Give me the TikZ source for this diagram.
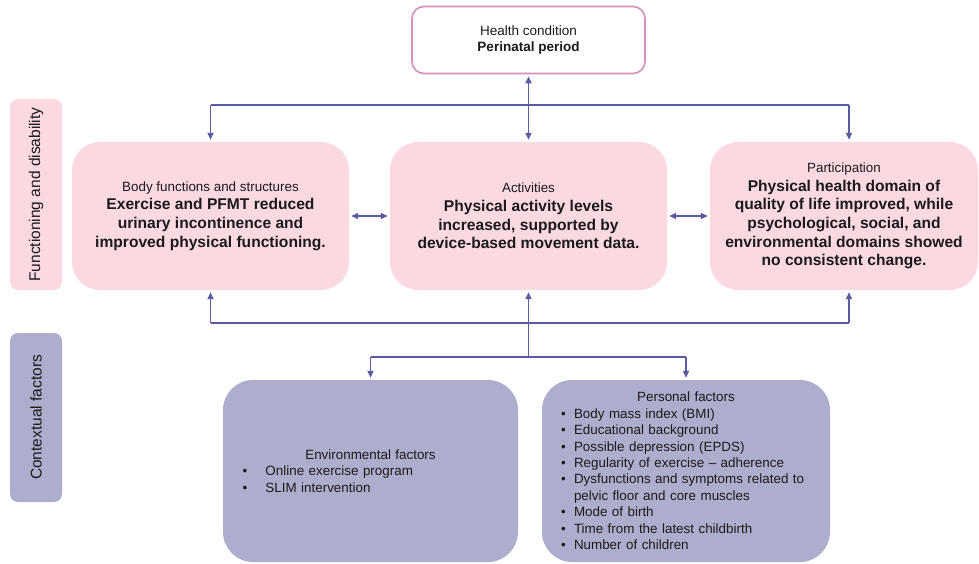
\documentclass[tikz,border=0pt]{standalone}
\usepackage{fontspec}
\setmainfont{Liberation Sans}
\usetikzlibrary{arrows.meta}

\definecolor{pinkfill}{HTML}{FADAE0}
\definecolor{violetfill}{HTML}{ADADCE}
\definecolor{busline}{HTML}{5A5AA5}
\definecolor{healthedge}{HTML}{D88FC0}
\definecolor{inktext}{HTML}{1A1A1A}

% bullet set in a box of given width, followed by the item text
\newcommand{\lbul}[2]{\makebox[#1][l]{\textbullet}#2}

\tikzset{
  mainbox/.style={fill=pinkfill, rounded corners=28pt, inner sep=0pt,
    minimum width=277pt, minimum height=148pt, align=center,
    text=inktext, font=\fontsize{15.6}{18.7}\selectfont},
  sidelabel/.style={rounded corners=8pt, inner sep=0pt, rotate=90,
    minimum height=52pt, text=inktext, font=\fontsize{15.5}{18}\selectfont},
  factorbox/.style={fill=violetfill, rounded corners=30pt, inner sep=0pt,
    minimum height=182pt, text=inktext, font=\fontsize{13.4}{16.4}\selectfont},
  link/.style={draw=busline, line width=1.8pt},
  tip/.style={-{Triangle[length=7pt,width=6pt]}, shorten >=2pt},
  tips/.style={{Triangle[length=7pt,width=6pt]}-{Triangle[length=7pt,width=6pt]},
    shorten >=2pt, shorten <=2pt},
}

\begin{document}
\begin{tikzpicture}[x=1pt, y=-1pt]
\useasboundingbox (0,0) rectangle (979,564);

% health condition
\node[draw=healthedge, line width=1.6pt, fill=white, rounded corners=12pt,
      minimum width=233pt, minimum height=67pt, inner sep=0pt, align=center,
      text=inktext, font=\fontsize{13.5}{16}\selectfont]
  (health) at (528.5,40) {Health condition\\\textbf{Perinatal period}};

% side labels
\node[sidelabel, fill=pinkfill, minimum width=191pt]
  (fdlabel) at (36,194.5) {Functioning and disability};
\node[sidelabel, fill=violetfill, minimum width=169pt]
  (cflabel) at (36,417.5) {Contextual factors};

% functioning and disability
\node[mainbox] (body) at (210.5,216)
  {{\fontsize{13.4}{18.7}\selectfont Body functions and structures}\\
   \textbf{Exercise and PFMT reduced}\\
   \textbf{urinary incontinence and}\\
   \textbf{improved physical functioning.}};
\node[mainbox] (act) at (528.5,216)
  {{\fontsize{13.4}{18.7}\selectfont Activities}\\
   \textbf{Physical activity levels}\\
   \textbf{increased, supported by}\\
   \textbf{device-based movement data.}};
\node[mainbox, minimum width=268pt] (part) at (844,216)
  {{\fontsize{13.4}{18.7}\selectfont Participation}\\
   \textbf{Physical health domain of}\\
   \textbf{quality of life improved, while}\\
   \textbf{psychological, social, and}\\
   \textbf{environmental domains showed}\\
   \textbf{no consistent change.}};

% contextual factors
\node[factorbox, minimum width=295pt, text width=256pt, align=left]
  (env) at (370.5,471)
  {\makebox[256pt]{Environmental factors}\\
   \lbul{23pt}{Online exercise program}\\
   \lbul{23pt}{SLIM intervention}};
\node[factorbox, minimum width=288pt, text width=250pt, align=left]
  (pers) at (686,471)
  {\makebox[250pt]{Personal factors}\\
   \lbul{13pt}{Body mass index (BMI)}\\
   \lbul{13pt}{Educational background}\\
   \lbul{13pt}{Possible depression (EPDS)}\\
   \lbul{13pt}{Regularity of exercise -- adherence}\\
   \lbul{13pt}{Dysfunctions and symptoms related to}\\
   \hspace*{13pt}pelvic floor and core muscles\\
   \lbul{13pt}{Mode of birth}\\
   \lbul{13pt}{Time from the latest childbirth}\\
   \lbul{13pt}{Number of children}};

% bus levels and the participation attachment points
\coordinate (topbus) at (528.5,105);
\coordinate (botbus) at (528.5,323);
\coordinate (split) at (528.5,357);
\coordinate (ptop) at ([xshift=5pt]part.north);
\coordinate (pbot) at ([xshift=5pt]part.south);

% health condition <-> activities, and the upper bus
\draw[link, tips] (health.south) -- (act.north);
\draw[link] (body.north |- topbus) -- (ptop |- topbus);
\draw[link, tip] (body.north |- topbus) -- (body.north);
\draw[link, tip] (ptop |- topbus) -- (ptop);

% links between the three domains
\draw[link, tips] (body.east) -- (act.west);
\draw[link, tips] (act.east) -- (part.west);

% lower bus
\draw[link] (body.south |- botbus) -- (pbot |- botbus);
\draw[link, tip] (body.south |- botbus) -- (body.south);
\draw[link, tip] (pbot |- botbus) -- (pbot);
\draw[link, tip] (split) -- (act.south);

% branch to the contextual factors
\draw[link] (env.north |- split) -- (pers.north |- split);
\draw[link, tip] (env.north |- split) -- (env.north);
\draw[link, tip] (pers.north |- split) -- (pers.north);
\end{tikzpicture}
\end{document}
